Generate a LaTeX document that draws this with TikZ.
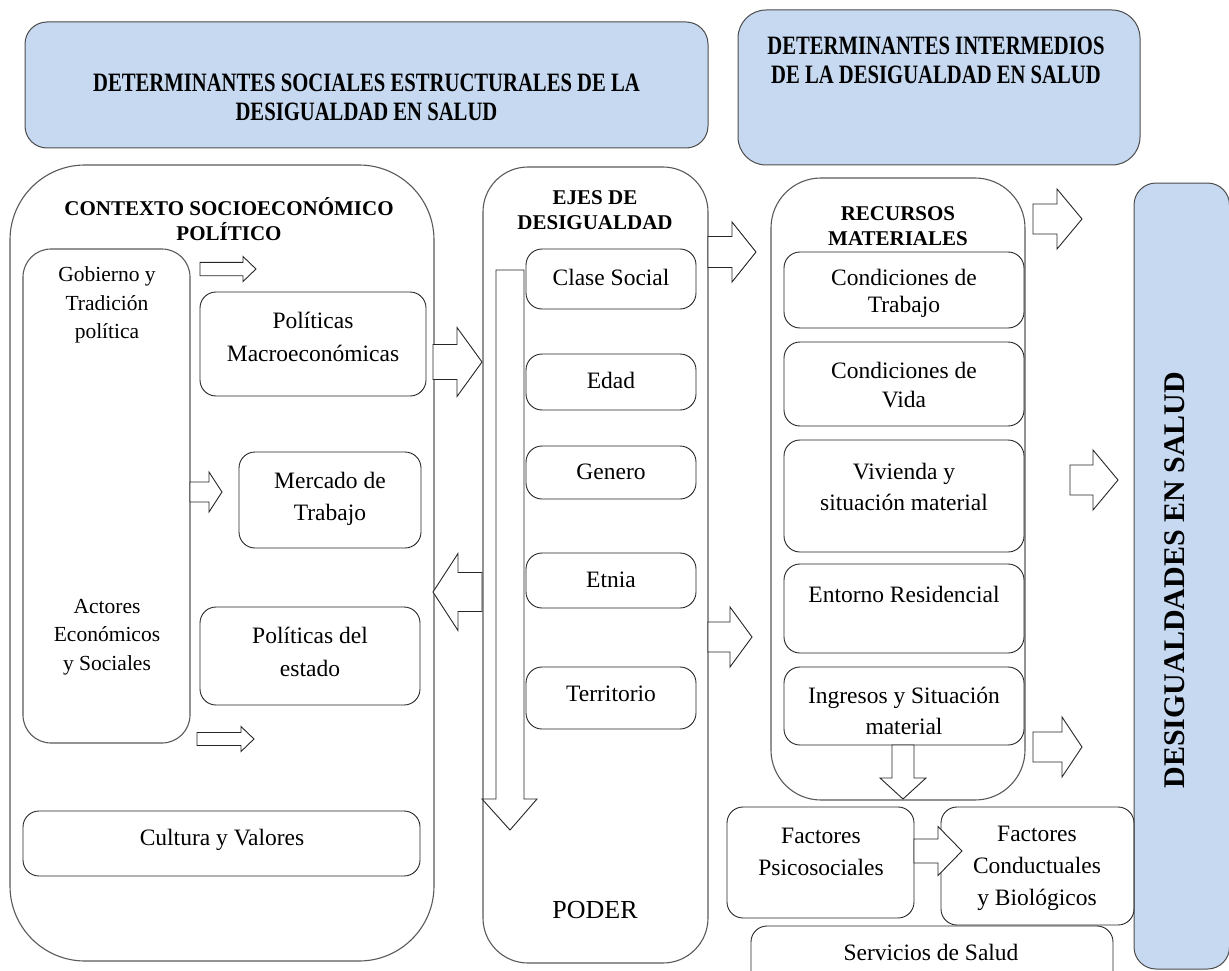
\documentclass[tikz,border=0pt]{standalone}
\usepackage{fontspec}
\setmainfont{Liberation Serif}
\newfontfamily\condfam[FakeStretch=0.78]{Liberation Serif}
\usetikzlibrary{calc}
\definecolor{bluefill}{HTML}{C6D9F1}
\tikzset{
  box/.style={draw=black!85, line width=0.9pt, rounded corners=16pt, inner sep=0pt},
  cont/.style={draw=black!65, line width=1.1pt, inner sep=0pt},
  bluebox/.style={draw=black!70, line width=1pt, fill=bluefill, inner sep=0pt},
  txt/.style={align=center, inner sep=0pt, font=\fontsize{23.5}{31}\selectfont},
  smalltxt/.style={align=center, inner sep=0pt, font=\fontsize{21.5}{28.5}\selectfont},
  hdr/.style={align=center, inner sep=0pt, font=\bfseries\fontsize{21}{25}\selectfont},
  bhdr/.style={align=center, inner sep=0pt, font=\condfam\bfseries\fontsize{26.5}{29}\selectfont},
  arr/.style={draw=black!85, line width=0.9pt, fill=white, line join=miter},
}
% box node from corners: style, name, x1, y1, x2, y2
\newcommand{\bx}[6]{\node[#1, minimum width={(#5-#3)*1pt}, minimum height={(#6-#4)*1pt}] (#2) at ({(#3+#5)/2},{(#4+#6)/2}) {};}
% horizontal block arrow: x0 (tail), x1 (head base), x2 (tip), yc, shaft half, head half
\newcommand{\harrow}[6]{\draw[arr] (#1,{#4-#5}) -- (#2,{#4-#5}) -- (#2,{#4-#6}) -- (#3,#4) -- (#2,{#4+#6}) -- (#2,{#4+#5}) -- (#1,{#4+#5}) -- cycle;}
% vertical block arrow: xc, y0 (tail), y1 (head base), y2 (tip), shaft half, head half
\newcommand{\varrow}[6]{\draw[arr] ({#1-#5},#2) -- ({#1-#5},#3) -- ({#1-#6},#3) -- (#1,#4) -- ({#1+#6},#3) -- ({#1+#5},#3) -- ({#1+#5},#2) -- cycle;}
\begin{document}
\begin{tikzpicture}[x=1pt, y=-1pt]
\useasboundingbox (0,0) rectangle (1229,971);
\clip (0,0) rectangle (1229,971);
% top blue headers
\bx{bluebox, rounded corners=22pt}{struct}{25}{22}{708}{148}
\node[bhdr] (structt) at (366.5,97) {DETERMINANTES SOCIALES ESTRUCTURALES DE LA\\DESIGUALDAD EN SALUD};
\bx{bluebox, rounded corners=28pt}{inter}{738}{10}{1140}{165}
\node[bhdr] (intert) at (936,60) {DETERMINANTES INTERMEDIOS\\DE LA DESIGUALDAD EN SALUD};
% right vertical blue box
\bx{bluebox, rounded corners=22pt}{desig}{1134}{183}{1229.5}{969}
\node[rotate=90, inner sep=0pt, font=\bfseries\fontsize{30}{30}\selectfont] (desigt) at (1175,580) {DESIGUALDADES EN SALUD};
% containers
\bx{cont, rounded corners=75pt}{ctx}{10}{165}{434}{961}
\bx{cont, rounded corners=45pt}{ejes}{483}{167}{708}{963}
\bx{cont, rounded corners=50pt}{rec}{771}{178}{1025}{800}
\node[hdr] (ctxt) at (229,219) {CONTEXTO SOCIOECONÓMICO\\POLÍTICO};
\node[hdr] (ejest) at (595,210.5) {EJES DE\\DESIGUALDAD};
\node[hdr] (rect) at (898,226.5) {RECURSOS\\MATERIALES};
% contexto inner boxes
\bx{cont, rounded corners=28pt}{gob}{23}{249}{190}{743}
\node[smalltxt] (gobt) at (107,305) {Gobierno y\\Tradición\\política};
\node[smalltxt] (actt) at (107,637) {Actores\\Económicos\\y Sociales};
\bx{box}{pm}{200}{292}{426}{396}
\node[txt, font=\fontsize{23.5}{33}\selectfont] (pmt) at (313,337) {Políticas\\Macroeconómicas};
\bx{box}{mer}{239}{452}{421}{548}
\node[txt, font=\fontsize{23.5}{32}\selectfont] (mert) at (330,499) {Mercado de\\Trabajo};
\bx{box}{pe}{200}{607}{420}{705}
\node[txt, font=\fontsize{23.5}{33}\selectfont] (pet) at (310,652) {Políticas del\\estado};
\bx{box}{cul}{23}{811}{420}{876}
\node[txt] (cult) at (222,840) {Cultura y Valores};
% ejes inner boxes
\bx{box}{cla}{526}{249}{696}{309}
\node[txt] (clat) at (611,277) {Clase Social};
\bx{box}{eda}{526}{354}{696}{410}
\node[txt] (edat) at (611,380) {Edad};
\bx{box}{gen}{526}{446}{696}{499}
\node[txt] (gent) at (611,472) {Genero};
\bx{box}{etn}{526}{553}{696}{608}
\node[txt] (etnt) at (611,580) {Etnia};
\bx{box}{ter}{526}{667}{696}{729}
\node[txt] (tert) at (611,694) {Territorio};
\node[txt, font=\fontsize{26}{30}\selectfont] (poder) at (595,910) {PODER};
% recursos inner boxes
\bx{box}{ct}{784}{252}{1024}{328}
\node[txt, font=\fontsize{23.5}{27}\selectfont] (ctt) at (904,293) {Condiciones de\\Trabajo};
\bx{box}{cv}{784}{342}{1024}{426}
\node[txt, font=\fontsize{23.5}{29}\selectfont] (cvt) at (904,385) {Condiciones de\\Vida};
\bx{box}{viv}{784}{440}{1024}{552}
\node[txt] (vivt) at (904,487) {Vivienda y\\situación material};
\bx{box}{ent}{784}{564}{1024}{653}
\node[txt] (entt) at (904,594) {Entorno Residencial};
\bx{box}{ing}{784}{667}{1024}{745}
\node[txt] (ingt) at (904,711) {Ingresos y Situación\\material};
% lower boxes
\bx{box}{psi}{727}{807}{914}{918}
\node[txt, font=\fontsize{23.5}{32}\selectfont] (psit) at (821,852) {Factores\\Psicosociales};
\bx{box}{con}{941}{807}{1134}{925}
\node[txt, font=\fontsize{23.5}{32}\selectfont] (cont) at (1037,868) {Factores\\Conductuales\\y Biológicos};
\bx{box}{ser}{751}{926}{1113}{995}
\node[txt] (sert) at (931,952) {Servicios de Salud};
% small arrows in contexto
\harrow{200}{243}{256}{269}{6.7}{12.5}
\harrow{190}{209}{222}{492}{10}{20}
\harrow{197}{241}{254}{739}{6.5}{12.5}
% big arrows
\harrow{433}{457}{482}{362}{17.5}{34.5}
\harrow{482}{458}{433}{592}{19.5}{38.5}
\harrow{708}{732}{756}{252}{15.5}{30}
\harrow{708}{730}{752}{637}{15}{30}
\harrow{1033}{1057}{1082}{219}{15}{30}
\harrow{1070}{1093}{1118}{480}{15}{30}
\harrow{1033}{1062}{1082}{747}{15}{30}
\harrow{914}{938}{962}{851}{12}{24.5}
\varrow{903}{745}{778}{799}{11}{23}
% bent arrow (PODER)
\draw[arr] (496,270) -- (524,270) -- (524,799) -- (537,799) -- (510,830) -- (482,799) -- (496,799) -- cycle;
\end{tikzpicture}
\end{document}
